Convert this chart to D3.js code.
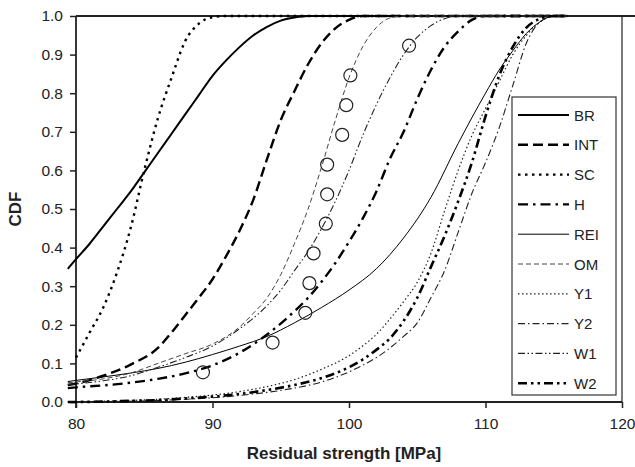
<!DOCTYPE html>
<html>
<head>
<meta charset="utf-8">
<script src="https://cdnjs.cloudflare.com/ajax/libs/d3/7.8.5/d3.min.js"></script>
<style>
  body { margin: 0; background: #fff; }
  svg { display: block; font-family: "Liberation Sans", Arial, sans-serif; }
</style>
</head>
<body>
<svg id="chart" width="635" height="467"></svg>
<script>
// residual strength [MPa] vs CDF, one list per model
var BR  = [[79.4,.345],[80,.37],[81,.41],[82,.455],[83,.5],[84,.545],[85,.595],[86,.645],[87,.695],[88,.745],[89,.795],[90,.845],[91,.885],[92,.92],[93,.95],[94,.972],[95,.988],[96,.996],[97,1],[116,1]];
var INT = [[79.4,.044],[80,.048],[82,.068],[84,.097],[86,.14],[87,.18],[88,.225],[89,.27],[90,.318],[91,.378],[92,.445],[93,.525],[94,.63],[95,.73],[96,.805],[97,.875],[98,.93],[99,.968],[100,.99],[101,1],[116,1]];
var SC  = [[80,.115],[81,.18],[82,.245],[83,.335],[84,.45],[85,.6],[86,.735],[87,.84],[88,.935],[89,.98],[90,.997],[91,1],[116,1]];
var H   = [[79.4,.036],[80,.038],[82,.043],[84,.05],[86,.06],[88,.074],[90,.095],[92,.128],[94,.175],[96,.235],[97,.27],[98,.312],[99,.36],[100,.415],[101,.475],[102,.545],[103,.63],[104,.7],[105,.785],[106,.86],[107,.92],[108,.96],[109,.99],[110,1],[116,1]];
var REI = [[79.4,.053],[80,.056],[82,.065],[84,.075],[86,.087],[88,.103],[90,.123],[92,.145],[94,.17],[96,.205],[98,.245],[100,.29],[102,.345],[104,.425],[106,.53],[108,.67],[110,.8],[111,.86],[112,.91],[113,.955],[114,.985],[115,1],[116,1]];
var OM  = [[79.4,.05],[80,.052],[82,.06],[84,.075],[86,.1],[88,.125],[90,.15],[92,.195],[93,.23],[94,.27],[95,.33],[96,.41],[97,.5],[98,.61],[99,.73],[100,.84],[101,.92],[102,.97],[103,.995],[104,1],[116,1]];
var Y1  = [[79.4,0],[82,.002],[84,.004],[86,.007],[88,.012],[90,.018],[92,.027],[94,.04],[96,.058],[98,.085],[100,.12],[101,.145],[102,.175],[103,.215],[104,.26],[105,.31],[106,.385],[107,.495],[108,.6],[109,.69],[110,.76],[111,.83],[112,.9],[113,.95],[114,.985],[115,1],[116,1]];
var Y2  = [[79.4,0],[82,.001],[84,.002],[86,.004],[88,.007],[90,.011],[92,.017],[94,.025],[96,.036],[98,.052],[100,.078],[101,.095],[102,.115],[103,.14],[104,.17],[105,.205],[106,.27],[107,.34],[108,.44],[109,.54],[110,.62],[111,.71],[112,.82],[113,.93],[114,.985],[115,1],[116,1]];
var W1  = [[79.4,.045],[80,.047],[82,.055],[84,.068],[86,.09],[88,.115],[90,.145],[92,.19],[94,.25],[95,.29],[96,.34],[97,.39],[98,.45],[99,.52],[100,.6],[101,.69],[102,.77],[103,.84],[104,.9],[105,.945],[106,.975],[107,.993],[108,1],[116,1]];
var W2  = [[79.4,0],[82,.001],[84,.003],[86,.005],[88,.009],[90,.014],[92,.021],[94,.031],[96,.044],[98,.062],[100,.09],[101,.11],[102,.135],[103,.165],[104,.21],[105,.27],[106,.35],[107,.43],[108,.52],[109,.62],[110,.74],[111,.845],[112,.92],[113,.97],[114,.993],[115,1],[116,1]];

// test data (circles)
var testX = [89.3, 94.4, 96.8, 97.1, 97.4, 98.3, 98.4, 98.4, 99.5, 99.8, 100.1, 104.4];
var testF = [0.077, 0.154, 0.231, 0.308, 0.385, 0.462, 0.538, 0.615, 0.692, 0.769, 0.846, 0.923];

var xTicks = [80, 90, 100, 110, 120];
var yTicks = [0, 0.1, 0.2, 0.3, 0.4, 0.5, 0.6, 0.7, 0.8, 0.9, 1.0];

var series = [
  {name: "BR",  data: BR,  w: 2,   dash: null,              col: "#000"},
  {name: "INT", data: INT, w: 2.4, dash: "10,5",            col: "#000"},
  {name: "SC",  data: SC,  w: 2.4, dash: "2.5,4.5",         col: "#000"},
  {name: "H",   data: H,   w: 2.4, dash: "10,5,2.5,5",      col: "#000"},
  {name: "REI", data: REI, w: 1,   dash: null,              col: "#000"},
  {name: "OM",  data: OM,  w: 1,   dash: "5,3",             col: "#444"},
  {name: "Y1",  data: Y1,  w: 1.2, dash: "1.5,2.5",         col: "#222"},
  {name: "Y2",  data: Y2,  w: 1.1, dash: "7,3,1.5,3",       col: "#222"},
  {name: "W1",  data: W1,  w: 1.1, dash: "7,2.5,1.5,2.5,1.5,2.5", col: "#222"},
  {name: "W2",  data: W2,  w: 2.6, dash: "9,4,2.5,4,2.5,4", col: "#000"}
];

var svg = d3.select("#chart");
var mLeft = 76, mRight = 622, mTop = 16, mBottom = 402;

var x = d3.scaleLinear().domain([80, 120]).range([mLeft, mRight]);
var y = d3.scaleLinear().domain([0, 1]).range([mBottom, mTop]);

var line = d3.line()
  .x(function(d) { return x(d[0]); })
  .y(function(d) { return y(d[1]); })
  .curve(d3.curveMonotoneX);

// axes
var xAxis = svg.append("g")
  .attr("transform", "translate(0," + mBottom + ")")
  .call(d3.axisBottom(x).tickValues(xTicks).tickSize(6).tickPadding(10).tickFormat(d3.format("d")));
var yAxis = svg.append("g")
  .attr("transform", "translate(" + mLeft + ",0)")
  .call(d3.axisLeft(y).tickValues(yTicks).tickSize(6).tickPadding(7).tickFormat(d3.format(".1f")));

[xAxis, yAxis].forEach(function(a) {
  a.select(".domain").remove();
  a.selectAll("line").attr("stroke", "#222").attr("stroke-width", 1.5);
  a.selectAll("text").attr("font-size", "15.5px").attr("fill", "#222")
    .attr("font-family", "'Liberation Sans', Arial, sans-serif");
});

// frame
svg.append("line").attr("x1", mLeft).attr("x2", mLeft).attr("y1", mTop).attr("y2", mBottom + 6)
  .attr("stroke", "#222").attr("stroke-width", 1.8);
svg.append("line").attr("x1", mLeft).attr("x2", mRight).attr("y1", mBottom).attr("y2", mBottom)
  .attr("stroke", "#222").attr("stroke-width", 1.8);
svg.append("line").attr("x1", mLeft).attr("x2", 635).attr("y1", mTop).attr("y2", mTop)
  .attr("stroke", "#222").attr("stroke-width", 1.8);
svg.append("line").attr("x1", mRight).attr("x2", mRight).attr("y1", mTop).attr("y2", mBottom)
  .attr("stroke", "#222").attr("stroke-width", 1.2);

// curves
svg.append("g").selectAll("path")
  .data(series)
  .enter()
  .append("path")
  .attr("d", function(d) { return line(d.data); })
  .attr("fill", "none")
  .attr("stroke", function(d) { return d.col; })
  .attr("stroke-width", function(d) { return d.w; })
  .attr("stroke-dasharray", function(d) { return d.dash; });

// test points
svg.append("g").selectAll("circle")
  .data(testX)
  .enter()
  .append("circle")
  .attr("cx", function(d) { return x(d); })
  .attr("cy", function(d, i) { return y(testF[i]); })
  .attr("r", 6.5)
  .attr("fill", "none")
  .attr("stroke", "#222")
  .attr("stroke-width", 1.2);

// axis titles
svg.append("text")
  .attr("x", 344)
  .attr("y", 459)
  .attr("text-anchor", "middle")
  .attr("font-size", "17px")
  .attr("font-weight", "bold")
  .attr("fill", "#222")
  .text("Residual strength [MPa]");

svg.append("text")
  .attr("transform", "translate(21," + y(0.5) + ") rotate(-90)")
  .attr("text-anchor", "middle")
  .attr("font-size", "17px")
  .attr("font-weight", "bold")
  .attr("fill", "#222")
  .text("CDF");

// legend
var lg = svg.append("g").attr("transform", "translate(512,97)");
lg.append("rect")
  .attr("width", 104).attr("height", 298)
  .attr("fill", "#fff").attr("stroke", "#333").attr("stroke-width", 1.2);

var items = lg.selectAll("g.item")
  .data(series)
  .enter()
  .append("g")
  .attr("transform", function(d, i) { return "translate(0," + (18 + i * 29.8) + ")"; });

items.append("line")
  .attr("x1", 6).attr("x2", 57)
  .attr("stroke", function(d) { return d.col; })
  .attr("stroke-width", function(d) { return d.w; })
  .attr("stroke-dasharray", function(d) { return d.dash; });

items.append("text")
  .attr("x", 62)
  .attr("y", 5.5)
  .attr("font-size", "15px")
  .attr("fill", "#222")
  .text(function(d) { return d.name; });
</script>
</body>
</html>
